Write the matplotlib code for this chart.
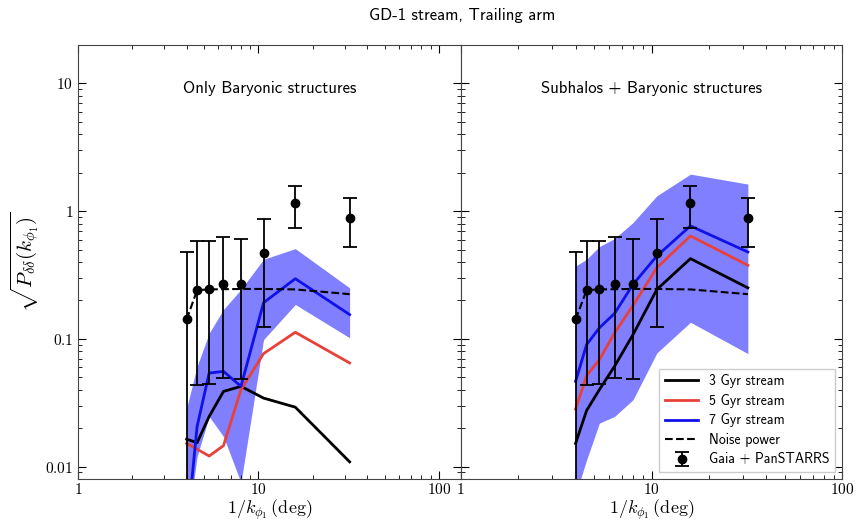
import numpy as np
import matplotlib.pyplot as plt
from matplotlib.ticker import LogLocator, FuncFormatter, NullFormatter

plt.rcParams['mathtext.fontset'] = 'cm'
plt.rcParams['font.family'] = ['cmss10', 'DejaVu Sans']
plt.rcParams['axes.unicode_minus'] = False

# scales 1/k_phi1 in deg
x = [4.0, 4.57, 5.33, 6.4, 8.0, 10.67, 16.0, 32.0]

# Gaia + PanSTARRS measurement
obs = [0.142, 0.241, 0.247, 0.27, 0.267, 0.474, 1.156, 0.886]
obs_lo = [0.001, 0.0435, 0.0446, 0.0494, 0.0488, 0.123, 0.745, 0.524]
obs_hi = [0.479, 0.585, 0.585, 0.625, 0.603, 0.876, 1.58, 1.26]
noise = [0.142, 0.241, 0.244, 0.245, 0.246, 0.246, 0.244, 0.224]

# only baryonic structures
bar_3 = [0.0164, 0.0154, 0.0247, 0.0388, 0.0425, 0.0344, 0.0292, 0.0109]
bar_5 = [0.0152, 0.0137, 0.0121, 0.0146, 0.040, 0.0767, 0.1127, 0.0648]
bar_7 = [0.003, 0.0206, 0.054, 0.0557, 0.0425, 0.192, 0.296, 0.155]
bar_7_lo = [0.003, 0.012, 0.0247, 0.0172, 0.0075, 0.0987, 0.186, 0.102]
bar_7_hi = [0.0287, 0.061, 0.111, 0.170, 0.244, 0.42, 0.509, 0.251]

# subhalos + baryonic structures
sub_3 = [0.0152, 0.0275, 0.040, 0.061, 0.108, 0.244, 0.425, 0.251]
sub_5 = [0.0282, 0.0515, 0.0687, 0.111, 0.183, 0.361, 0.64, 0.377]
sub_7 = [0.0465, 0.0902, 0.122, 0.158, 0.267, 0.446, 0.767, 0.479]
sub_7_lo = [0.006, 0.0113, 0.0219, 0.0247, 0.0334, 0.0777, 0.135, 0.0767]
sub_7_hi = [0.372, 0.42, 0.528, 0.61, 0.815, 1.32, 1.95, 1.63]

obs = np.array(obs)
yerr = [obs - np.array(obs_lo), np.array(obs_hi) - obs]

fig = plt.figure(figsize=(8.56, 5.21), dpi=100)
ax1 = fig.add_axes([78/856, 1-479/521, 382.7/856, 434/521])
ax2 = fig.add_axes([460.7/856, 1-479/521, 381.6/856, 434/521])

panels = [(ax1, bar_3, bar_5, bar_7, bar_7_lo, bar_7_hi, 'Only Baryonic structures', 132),
          (ax2, sub_3, sub_5, sub_7, sub_7_lo, sub_7_hi, 'Subhalos + Baryonic structures', 100)]

for ax, l3, l5, l7, lo, hi, name, xmax in panels:
    ax.fill_between(x, lo, hi, color='blue', alpha=0.5, lw=0)
    ax.plot(x, l3, color='k', lw=2, label='3 Gyr stream')
    ax.plot(x, l5, color='#e8413a', lw=2, label='5 Gyr stream')
    ax.plot(x, l7, color='#1010e8', lw=2, label='7 Gyr stream')
    ax.plot(x, noise, 'k--', lw=1.5, label='Noise power')
    ax.errorbar(x, obs, yerr=yerr, fmt='o', color='k', ms=6, elinewidth=1.3,
                capsize=5, capthick=1.3, label='Gaia + PanSTARRS')
    ax.set_xscale('log')
    ax.set_yscale('log')
    ax.set_xlim(1, xmax)
    ax.set_ylim(0.008, 20)
    ax.text(0.5, 0.9, name, transform=ax.transAxes, ha='center', va='center', fontsize=12)
    ax.tick_params(which='both', direction='in', top=True, right=True, labelsize=11)
    ax.tick_params(which='major', length=6)
    ax.tick_params(which='minor', length=3)
    ax.tick_params(axis='x', pad=2)
    ax.xaxis.set_major_locator(LogLocator(base=10, numticks=5))
    ax.xaxis.set_minor_locator(LogLocator(base=10, subs=np.arange(2, 10), numticks=10))
    ax.xaxis.set_major_formatter(FuncFormatter(lambda v, p: r'$%g$' % v))
    ax.xaxis.set_minor_formatter(NullFormatter())
    ax.set_xlabel(r'$1/k_{\phi_1}\,(\mathrm{deg})$', fontsize=13, labelpad=1)
    for s in ax.spines.values():
        s.set_color('#444444')

ax1.yaxis.set_major_formatter(FuncFormatter(lambda v, p: r'$%g$' % v))
ax1.yaxis.set_minor_formatter(NullFormatter())
ax2.yaxis.set_major_formatter(NullFormatter())
ax2.yaxis.set_minor_formatter(NullFormatter())
ax1.set_ylabel(r'$\sqrt{P_{\delta\delta}(k_{\phi_1})}$', fontsize=15, labelpad=2)

ax2.legend(loc='lower right', fontsize=10, borderaxespad=0.5, handlelength=2.4,
           labelspacing=0.4, framealpha=1, edgecolor='#cccccc', fancybox=False)

fig.suptitle('GD-1 stream, Trailing arm', x=0.54, y=0.985, fontsize=12)

plt.savefig('out.png', dpi=100)
